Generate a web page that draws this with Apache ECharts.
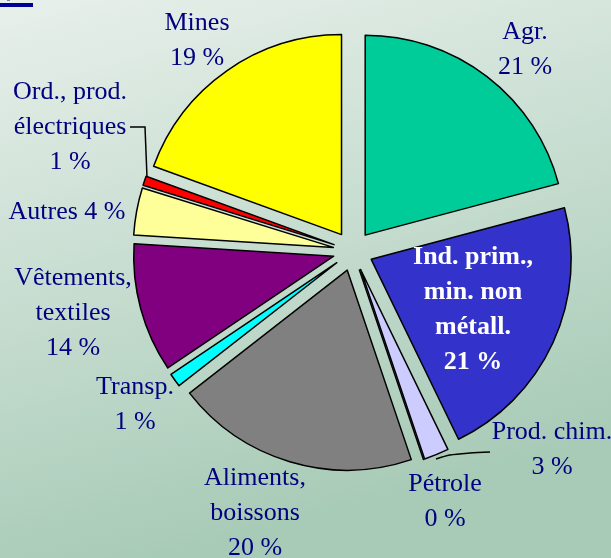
<!DOCTYPE html>
<html>
<head>
<meta charset="utf-8">
<script src="https://cdn.jsdelivr.net/npm/echarts@6/dist/echarts.min.js"></script>
<style>
  body { margin: 0; padding: 0; }
  #chart { width: 611px; height: 558px; }
</style>
</head>
<body>
<div id="chart"></div>
<script>
// categories, clockwise from 12 o'clock
const categories = ["Agr.", "Ind. prim.,\nmin. non\nmétall.", "Prod. chim.", "Pétrole",
  "Aliments,\nboissons", "Transp.", "Vêtements,\ntextiles", "Autres",
  "Ord., prod.\nélectriques", "Mines"];
// slice sizes as drawn (share of the circle, %)
const shares = [20.8, 21.9, 2.0, 0, 19.6, 1.1, 10.4, 3.8, 0.75, 19.4];
// percentages as printed on the labels
const printedPct = [21, 21, 3, 0, 20, 1, 14, 4, 1, 19];
const colors = ["#00CC99", "#3333CC", "#CCCCFF", "#9999FF", "#808080",
  "#00FFFF", "#800080", "#FFFF99", "#FF0000", "#FFFF00"];

// label centres (text only)
const labelPos = [[525, 50], [473, 310], [552, 450], [445, 502], [255, 513],
  [135, 405], [73, 313], [67, 212], [70, 127], [197, 41]];

const chart = echarts.init(document.getElementById("chart"));

// labels as text elements
const labels = categories.map((name, i) => {
  const sep = i === 7 ? " " : "\n";
  const inside = i === 1;
  return {
    type: "text",
    z: 10,
    style: {
      text: name + sep + printedPct[i] + " %",
      x: labelPos[i][0],
      y: labelPos[i][1],
      align: "center",
      verticalAlign: "middle",
      fontFamily: "Liberation Serif",
      fontSize: 26,
      lineHeight: 35,
      fontWeight: inside ? "bold" : "normal",
      fill: inside ? "#ffffff" : "#000080",
    },
  };
});

chart.setOption({
  backgroundColor: {
    type: "linear", x: 0, y: 0, x2: 0.25, y2: 1,
    colorStops: [
      { offset: 0, color: "#e8f0eb" },
      { offset: 1, color: "#a8cbb7" },
    ],
  },
  graphic: labels.concat([
    { type: "rect", shape: { x: 0, y: 3, width: 33, height: 4 }, style: { fill: "#000099" } },
    { type: "rect", shape: { x: 7, y: 0, width: 3, height: 1 }, style: { fill: "#7777cc" } },
    // leader lines
    { type: "polyline", shape: { points: [[130, 127], [145, 127], [147, 177]] },
      style: { stroke: "#000000", lineWidth: 1.5, fill: null } },
    { type: "polyline", shape: { points: [[436, 459], [450, 455], [470, 453], [490, 452]], smooth: 0.3 },
      style: { stroke: "#000000", lineWidth: 1.5, fill: null } },
  ]),
  series: [
    {
      type: "pie",
      center: [353, 251],
      radius: 200,
      startAngle: 90,
      clockwise: true,
      selectedMode: "multiple",
      selectedOffset: 20,
      avoidLabelOverlap: false,
      animation: false,
      itemStyle: { borderColor: "#000000", borderWidth: 1.5 },
      select: { itemStyle: { borderColor: "#000000", borderWidth: 1.5 } },
      emphasis: { disabled: true },
      label: { show: false },
      labelLine: { show: false },
      data: categories.map((name, i) => ({
        name: name,
        value: shares[i],
        selected: true,
        itemStyle: { color: colors[i] },
      })),
    },
  ],
});
</script>
</body>
</html>
